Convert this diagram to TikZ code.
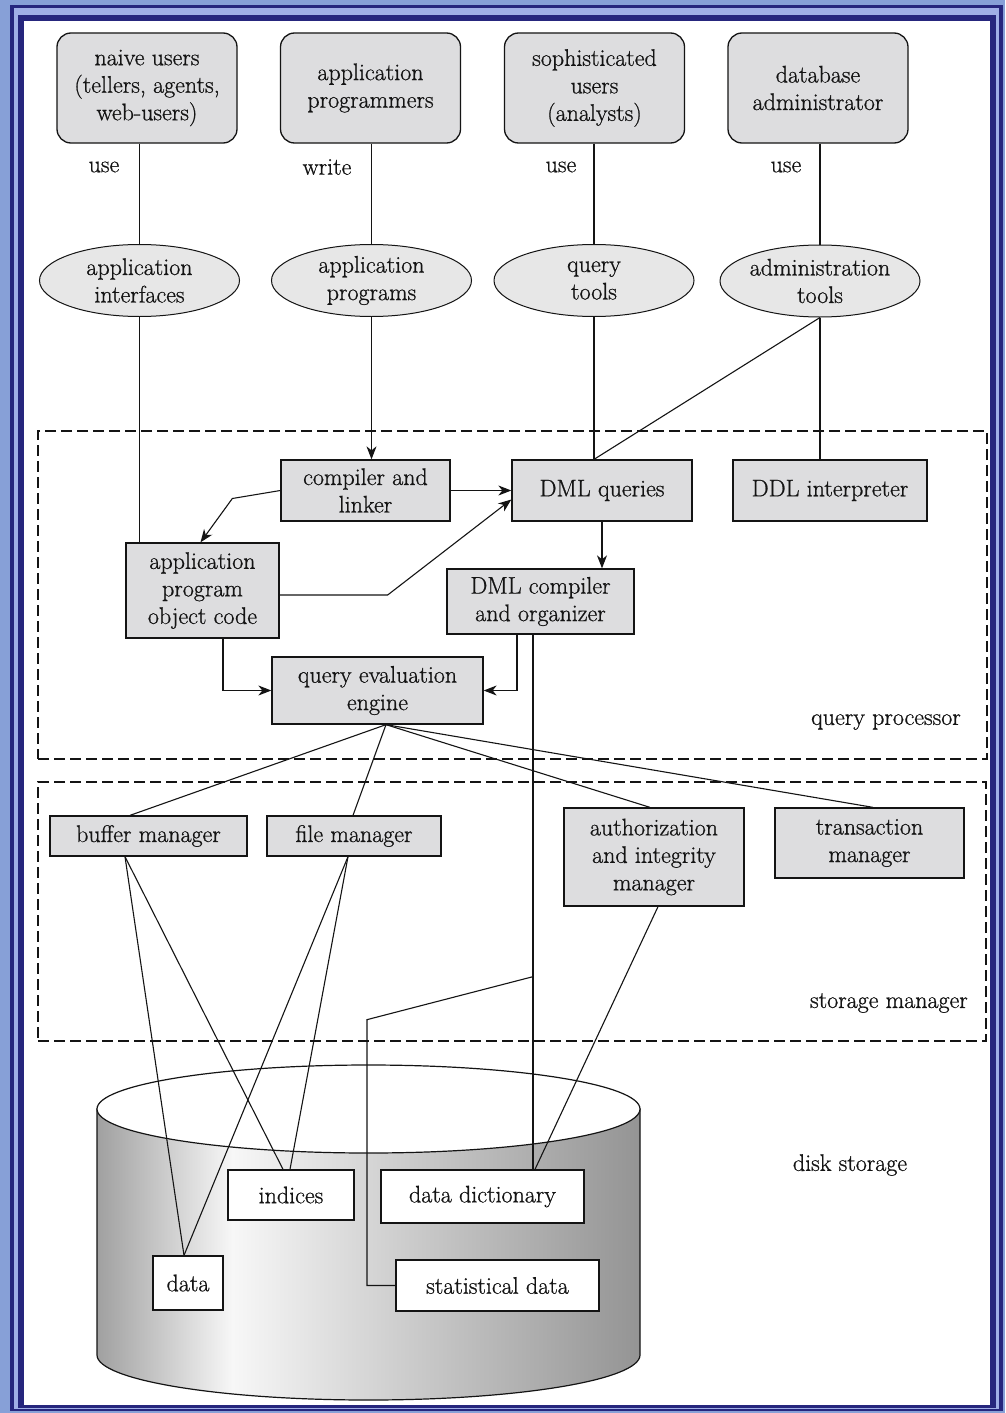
\documentclass[tikz,border=0pt]{standalone}
\usepackage{fontspec}
\setmainfont{Latin Modern Roman}[RawFeature={embolden=0.8}]
\usetikzlibrary{arrows.meta,shapes.geometric,calc}
\definecolor{bgblue}{RGB}{135,160,215}
\definecolor{navy}{RGB}{38,38,125}
\definecolor{lightb}{RGB}{160,175,230}
\definecolor{boxgray}{RGB}{221,221,223}
\definecolor{ellgray}{RGB}{231,231,231}
\definecolor{cylA}{RGB}{160,160,160}
\definecolor{cylB}{RGB}{247,247,247}
\definecolor{cylC}{RGB}{208,208,208}
\definecolor{cylD}{RGB}{148,148,148}
\definecolor{ink}{RGB}{20,20,20}
\pgfdeclarehorizontalshading{cylshade}{100bp}{color(0bp)=(cylA); color(25bp)=(cylA); color(37.5bp)=(cylB); color(52bp)=(cylC); color(75bp)=(cylD); color(100bp)=(cylD)}
\begin{document}
\begin{tikzpicture}[x=1pt,y=-1pt,
  font=\fontsize{24}{27.5}\selectfont,
  userbox/.style={draw=ink, line width=1.3pt, fill=boxgray, rounded corners=14pt,
    minimum width=180pt, minimum height=110pt, align=center, inner sep=0pt, text=ink},
  toolell/.style={ellipse, draw=ink, line width=1pt, fill=ellgray, minimum width=200pt,
    minimum height=72pt, align=center, inner xsep=-40pt, inner ysep=-18pt, text=ink},
  procbox/.style={draw=ink, line width=1.3pt, fill=boxgray, align=center, inner sep=0pt, text=ink},
  diskbox/.style={draw=ink, line width=1.3pt, fill=white, align=center, inner sep=0pt, text=ink},
  region/.style={draw=ink, dash pattern=on 11pt off 5pt, line width=1.2pt, inner sep=0pt},
  lbl/.style={text=ink, inner sep=0pt},
  conn/.style={draw=ink, line width=1.1pt},
  arr/.style={conn, -{Stealth[length=13pt,width=10pt,inset=4pt]}},
]
% background and panel
\fill[bgblue] (0,0) rectangle (1005,1413);
\useasboundingbox (0,0) rectangle (1005,1413);
\fill[navy] (10,5) rectangle (1003,1411);
\fill[lightb] (14,8) rectangle (999,1409);
\fill[navy] (18,15) rectangle (996,1408);
\fill[white] (24,21) rectangle (990,1405);

% regions
\node[region, minimum width=949pt, minimum height=328pt] (qp) at (512.5,595) {};
\node[region, minimum width=948pt, minimum height=259pt] (sm) at (512,911.5) {};
\node[lbl, anchor=east] (qpl) at (961,722) {query processor};
\node[lbl, anchor=east] (sml) at (968,1003) {storage manager};
\node[lbl] (dsl) at (850,1165) {disk storage};

% cylinder
\path[shading=cylshade, draw=ink, line width=1.2pt]
  (97,1109) -- (97,1355) arc[start angle=180, end angle=360, x radius=271.5pt, y radius=45pt]
  -- (640,1109) -- cycle;
\draw[ink, line width=1.2pt, fill=white] (368.5,1109) ellipse[x radius=271.5pt, y radius=44pt];

% users
\node[userbox] (nu) at (147,88) {naive users\\(tellers, agents,\\web-users)};
\node[userbox] (ap) at (370.5,88) {application\\programmers};
\node[userbox] (su) at (594.5,88) {sophisticated\\users\\(analysts)};
\node[userbox] (da) at (818,88) {database\\administrator};

\node[lbl] (u1) at (104,167) {use};
\node[lbl] (u2) at (327,167) {write};
\node[lbl] (u3) at (561,167) {use};
\node[lbl] (u4) at (786,167) {use};

% tools
\node[toolell] (ai) at (139.5,280.5) {application\\interfaces};
\node[toolell] (apg) at (371.5,280.5) {application\\programs};
\node[toolell] (qt) at (594,280.5) {query\\tools};
\node[toolell] (at) at (820,281) {administration\\tools};

% query processor boxes
\node[procbox, minimum width=169pt, minimum height=61pt] (cl) at (365.5,490.5) {compiler and\\linker};
\node[procbox, minimum width=180pt, minimum height=61pt] (dmlq) at (602,490.5) {DML queries};
\node[procbox, minimum width=194pt, minimum height=61pt] (ddl) at (830,490.5) {DDL interpreter};
\node[procbox, minimum width=153pt, minimum height=95pt] (apo) at (202.5,590.5) {application\\program\\object code};
\node[procbox, minimum width=187pt, minimum height=65pt] (dmlc) at (540.5,601.5) {DML compiler\\and organizer};
\node[procbox, minimum width=211pt, minimum height=67pt] (qe) at (377.5,690.5) {query evaluation\\engine};

% storage manager boxes
\node[procbox, minimum width=197pt, minimum height=40pt] (buf) at (148.5,836) {buffer manager};
\node[procbox, minimum width=174pt, minimum height=40pt] (fm) at (354,836) {file manager};
\node[procbox, minimum width=180pt, minimum height=98pt] (auth) at (654,857) {authorization\\and integrity\\manager};
\node[procbox, minimum width=189pt, minimum height=70pt] (tm) at (869.5,843) {transaction\\manager};

% disk boxes
\node[diskbox, minimum width=126pt, minimum height=50pt] (ind) at (291,1195) {indices};
\node[diskbox, minimum width=203pt, minimum height=53pt] (dd) at (482.5,1196.5) {data dictionary};
\node[diskbox, minimum width=70pt, minimum height=54pt] (data) at (188,1283) {data};
\node[diskbox, minimum width=203pt, minimum height=51pt] (stat) at (497.5,1285.5) {statistical data};

% connectors: users to tools
\draw[conn] (nu.south -| ai.north) -- (ai.north);
\draw[conn] (ap.south -| apg.north) -- (apg.north);
\draw[conn] (su.south -| qt.north) -- (qt.north);
\draw[conn] (da.south -| at.north) -- (at.north);

% tools to query processor
\draw[conn] (ai.south) -- (ai.south |- apo.north);
\draw[arr] (apg.south) -- (apg.south |- cl.north);
\draw[conn] (qt.south) -- (qt.south |- dmlq.north);
\draw[conn] (at.south) -- (at.south |- ddl.north);
\draw[conn] (at.south) -- (qt.south |- dmlq.north);

% inside query processor
\draw[arr] (cl.east) -- (cl.east -| dmlq.west);
\coordinate (k0) at ($(cl.west)+(-48,8)$);
\draw[arr] (cl.west) -- (k0) -- ($(apo.north)+(-2,0)$);
\coordinate (k1) at ($(apo.east)+(108,4.5)$);
\draw[arr] ($(apo.east)+(0,4.5)$) -- (k1) -- ($(dmlq.west)+(0,9)$);
\draw[arr] (dmlq.south) -- (dmlq.south |- dmlc.north);
\draw[arr] ($(apo.south)+(20.5,0)$) |- (qe.west);
\draw[arr] ($(dmlc.south)+(-23.5,0)$) |- (qe.east);

% data dictionary / statistical data path
\coordinate (k2) at ($(dmlc.south)+(-7.5,0)$);
\draw[conn] (k2) -- (k2 |- dd.north);
\coordinate (br) at ($(k2)+(0,342)$);
\draw[conn] (br) -- ++(-166,43) |- (stat.west);
\draw[conn] ($(auth.south)+(4,0)$) -- ($(k2 |- dd.north)+(2,0)$);

% query evaluation engine fan-out
\coordinate (qeb) at ($(qe.south)+(8.5,0)$);
\draw[conn] (qeb) -- ($(buf.north)+(-18.5,0)$);
\draw[conn] (qeb) -- ($(fm.north)+(-1,0)$);
\draw[conn] (qeb) -- ($(auth.north)+(-4,0)$);
\draw[conn] (qeb) -- ($(tm.north)+(3.5,0)$);

% managers to disk
\coordinate (bb) at ($(buf.south)+(-23.5,0)$);
\coordinate (fb) at ($(fm.south)+(-6,0)$);
\draw[conn] (bb) -- ($(data.north)+(-4,0)$);
\draw[conn] (bb) -- ($(ind.north)+(-8,0)$);
\draw[conn] (fb) -- ($(data.north)+(-4,0)$);
\draw[conn] (fb) -- ($(ind.north)+(-1,0)$);
\end{tikzpicture}
\end{document}
